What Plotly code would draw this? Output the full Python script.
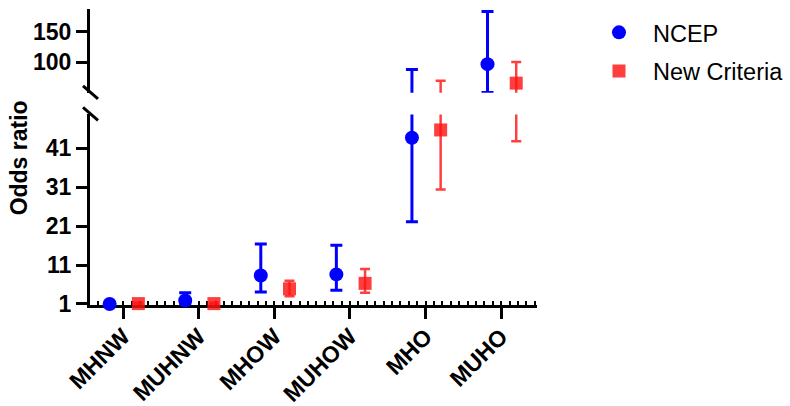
import plotly.graph_objects as go

categories = ["MHNW", "MUHNW", "MHOW", "MUHOW", "MHO", "MUHO"]
ncep_or = [1.0, 1.9, 8.3, 8.6, 43.7, 96.7]
ncep_lo = [0.8, 1.1, 4.1, 4.5, 22.1, 50.3]
ncep_hi = [1.2, 3.9, 16.4, 16.1, 88.0, 182.7]
new_or = [1.1, 1.1, 4.9, 6.3, 45.7, 65.7]
new_lo = [0.9, 0.9, 3.0, 3.9, 30.4, 42.8]
new_hi = [1.3, 1.3, 7.0, 10.0, 69.4, 100.0]
lower_ticks = [1, 11, 21, 31, 41]
upper_ticks = [100, 150]
BREAK = 50

FONT = "Liberation Sans, Arial, sans-serif"
BLUE = "#0000ff"
RED = "rgba(255,20,20,0.82)"

series = [
    dict(name="NCEP", y=ncep_or, lo=ncep_lo, hi=ncep_hi, color=BLUE, symbol="circle",
         size=14, off=-0.18, capw=6, thick=3),
    dict(name="New Criteria", y=new_or, lo=new_lo, hi=new_hi, color=RED, symbol="square",
         size=13, off=0.2, capw=5, thick=2.5),
]

fig = go.Figure()
for s in series:
    xs = [i + s["off"] for i in range(len(categories))]
    err_plus = [h - v for h, v in zip(s["hi"], s["y"])]
    err_minus = [v - l for v, l in zip(s["y"], s["lo"])]
    for yax in ["y", "y2"]:
        fig.add_trace(go.Scatter(
            x=xs, y=s["y"], mode="markers", yaxis=yax, xaxis="x",
            marker=dict(size=1, color="rgba(0,0,0,0)"),
            error_y=dict(type="data", symmetric=False, array=err_plus, arrayminus=err_minus,
                         color=s["color"], thickness=s["thick"], width=s["capw"]),
            showlegend=False, hoverinfo="skip"))
    low_vals = [v if v <= BREAK else None for v in s["y"]]
    up_vals = [v if v > BREAK else None for v in s["y"]]
    fig.add_trace(go.Scatter(
        x=xs, y=low_vals, mode="markers", yaxis="y", cliponaxis=False,
        marker=dict(symbol=s["symbol"], size=s["size"], color=s["color"], line=dict(width=0)),
        name=s["name"], legendgroup=s["name"], showlegend=True))
    fig.add_trace(go.Scatter(
        x=xs, y=up_vals, mode="markers", yaxis="y2", cliponaxis=False,
        marker=dict(symbol=s["symbol"], size=s["size"], color=s["color"], line=dict(width=0)),
        name=s["name"], legendgroup=s["name"], showlegend=False))

LOW_TOP = 0.644
UP_BOT = 0.717

axis_common = dict(showline=True, linecolor="black", linewidth=3, ticks="outside",
                   ticklen=11, tickwidth=3, tickcolor="black", showgrid=False, zeroline=False,
                   automargin=False,
                   tickfont=dict(family=FONT, size=23, color="black", weight="bold"))

fig.update_layout(
    width=790, height=406,
    margin=dict(l=90, r=253, t=9, b=101, autoexpand=False),
    paper_bgcolor="white", plot_bgcolor="white",
    font=dict(family=FONT, color="black"),
    xaxis=dict(range=[-0.44, 5.475], tickvals=list(range(len(categories))), ticktext=categories,
               tickangle=-45, layer="below traces", ticklabelstandoff=-5,
               minor=dict(ticks="inside", ticklen=4, tickwidth=2, tickcolor="black",
                          dtick=1 / 9, tick0=0, showgrid=False),
               **axis_common),
    yaxis=dict(domain=[0, LOW_TOP], range=[0.74, 49.7], tickvals=lower_ticks,
               ticktext=[str(t) for t in lower_ticks], anchor="x", **axis_common),
    yaxis2=dict(domain=[UP_BOT, 1], range=[50, 186.6], tickvals=upper_ticks,
                ticktext=[str(t) for t in upper_ticks], anchor="x", **axis_common),
    legend=dict(xref="container", yref="container", x=0.7405, y=0.974,
                xanchor="left", yanchor="top", itemwidth=58,
                font=dict(family=FONT, size=23.5, color="black"),
                traceorder="grouped", tracegroupgap=5, bgcolor="rgba(0,0,0,0)"),
    showlegend=True,
)

for ypos in [UP_BOT, LOW_TOP]:
    fig.add_shape(type="line", xref="paper", yref="paper",
                  xsizemode="pixel", ysizemode="pixel", xanchor=0, yanchor=ypos,
                  x0=-7, x1=8, y0=7, y1=-6, line=dict(color="black", width=3))

fig.add_annotation(text="<b>Odds ratio</b>", xref="paper", yref="paper",
                   x=-0.16, y=0.497, textangle=-90, showarrow=False,
                   xanchor="center", yanchor="middle",
                   font=dict(family=FONT, size=23, color="black"))

fig.write_html("out.html", config={"displayModeBar": False},
               post_script="document.body.style.margin='0';document.body.style.overflow='hidden';")
